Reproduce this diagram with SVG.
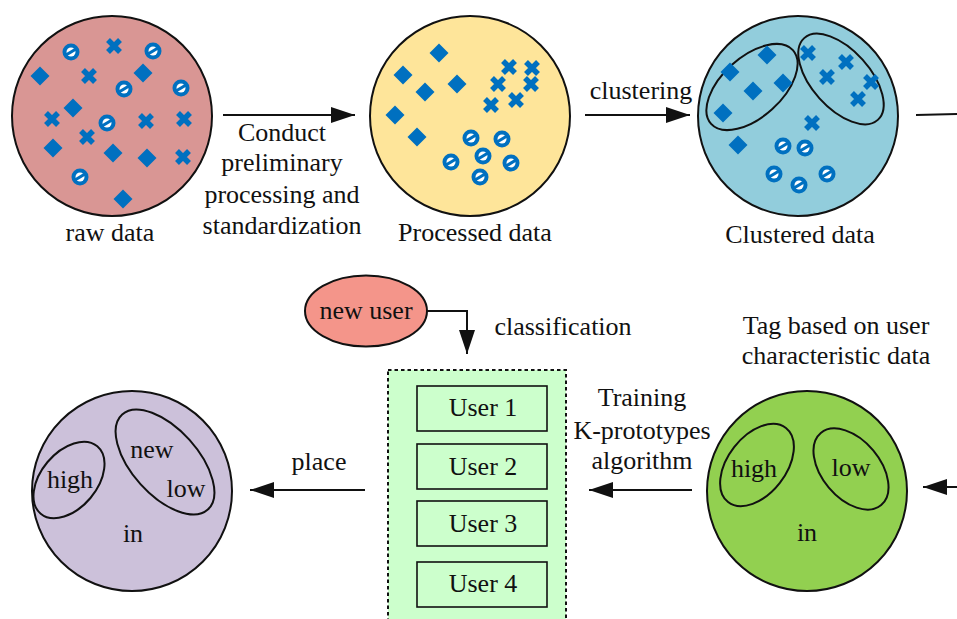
<svg xmlns="http://www.w3.org/2000/svg" width="957" height="619" viewBox="0 0 957 619">
  <style>
    text { font-family: "Liberation Serif", "Times New Roman", serif; font-size: 26px; fill: #111; text-anchor: middle; }
    .big { stroke: #111; stroke-width: 2; }
    .ell { fill: none; stroke: #111; stroke-width: 2; }
    .conn { stroke: #111; stroke-width: 2; fill: none; }
    .box { fill: #ccffcc; stroke: #111; stroke-width: 1.6; }
  </style>
  <defs>
    <marker id="arrow" viewBox="0 0 24 16" refX="24" refY="8" markerWidth="24" markerHeight="16" markerUnits="userSpaceOnUse" orient="auto">
      <path d="M0,0 L24,8 L0,16 Z" fill="#111"/>
    </marker>
    <path id="dia" d="M0,-9.5 L9.5,0 L0,9.5 L-9.5,0 Z" fill="#0070c0"/>
    <path id="crs" d="M-6,-6 L6,6 M6,-6 L-6,6" stroke="#0070c0" stroke-width="5.5" fill="none"/>
    <g id="rng">
      <circle r="8.5" fill="#0070c0"/>
      <circle r="4.5" fill="#ffffff"/>
      <line x1="-5" y1="3" x2="5" y2="-3" stroke="#0070c0" stroke-width="3.2"/>
    </g>
  </defs>

  <!-- raw data -->
  <g id="raw-data">
    <circle class="big" cx="112" cy="116" r="100" fill="#d99694"/>
    <use href="#rng" x="71" y="52"/><use href="#rng" x="153" y="51"/><use href="#rng" x="124" y="89"/>
    <use href="#rng" x="181" y="88"/><use href="#rng" x="107" y="123"/><use href="#rng" x="80" y="177"/>
    <use href="#crs" x="114" y="46"/><use href="#crs" x="89" y="76"/><use href="#crs" x="52" y="119"/>
    <use href="#crs" x="87" y="137"/><use href="#crs" x="146" y="121"/><use href="#crs" x="184" y="119"/>
    <use href="#crs" x="183" y="157"/>
    <use href="#dia" x="40" y="76"/><use href="#dia" x="143" y="73"/><use href="#dia" x="73" y="108"/>
    <use href="#dia" x="53" y="148"/><use href="#dia" x="113" y="153"/><use href="#dia" x="147" y="158"/>
    <use href="#dia" x="123" y="199"/>
    <text x="110" y="241">raw data</text>
  </g>

  <!-- processed data -->
  <g id="processed-data">
    <circle class="big" cx="470" cy="116" r="100" fill="#fee59a"/>
    <use href="#dia" x="439" y="53"/><use href="#dia" x="403" y="75"/><use href="#dia" x="425" y="92"/>
    <use href="#dia" x="457" y="84"/><use href="#dia" x="395" y="115"/><use href="#dia" x="417" y="137"/>
    <use href="#crs" x="509" y="67"/><use href="#crs" x="532" y="68"/><use href="#crs" x="498" y="84"/>
    <use href="#crs" x="531" y="84"/><use href="#crs" x="516" y="100"/><use href="#crs" x="491" y="105"/>
    <use href="#rng" x="471" y="138"/><use href="#rng" x="502" y="139"/><use href="#rng" x="483" y="156"/>
    <use href="#rng" x="451" y="162"/><use href="#rng" x="511" y="163"/><use href="#rng" x="480" y="177"/>
    <text x="475" y="241">Processed data</text>
  </g>

  <!-- clustered data -->
  <g id="clustered-data">
    <circle class="big" cx="798" cy="116" r="100" fill="#92cddc"/>
    <ellipse class="ell" cx="752" cy="87" rx="55" ry="30" transform="rotate(-42 752 87)"/>
    <ellipse class="ell" cx="841" cy="79" rx="55" ry="29" transform="rotate(48 841 79)"/>
    <use href="#dia" x="767" y="55"/><use href="#dia" x="730" y="72"/><use href="#dia" x="753" y="91"/>
    <use href="#dia" x="783" y="83"/><use href="#dia" x="723" y="113"/><use href="#dia" x="738" y="145"/>
    <use href="#crs" x="808" y="53"/><use href="#crs" x="846" y="62"/><use href="#crs" x="827" y="77"/>
    <use href="#crs" x="871" y="82"/><use href="#crs" x="858" y="99"/><use href="#crs" x="812" y="123"/>
    <use href="#rng" x="783" y="146"/><use href="#rng" x="805" y="148"/><use href="#rng" x="774" y="174"/>
    <use href="#rng" x="827" y="174"/><use href="#rng" x="799" y="185"/>
    <text x="800" y="243">Clustered data</text>
  </g>

  <!-- tagged users -->
  <g id="tagged">
    <text x="836" y="334">Tag based on user</text>
    <text x="836" y="364">characteristic data</text>
    <circle class="big" cx="807" cy="491" r="100" fill="#92d050"/>
    <ellipse class="ell" cx="757" cy="465" rx="47" ry="29" transform="rotate(-52 757 465)"/>
    <ellipse class="ell" cx="851" cy="469" rx="47" ry="29" transform="rotate(50 851 469)"/>
    <text x="754" y="477">high</text>
    <text x="851" y="476">low</text>
    <text x="807" y="541">in</text>
  </g>

  <!-- user groups -->
  <g id="user-groups">
    <rect x="388" y="370" width="178" height="260" fill="#ccffcc" stroke="#111" stroke-width="2" stroke-dasharray="3.5 3"/>
    <rect class="box" x="417" y="386" width="130" height="45"/>
    <text x="483" y="416">User 1</text>
    <rect class="box" x="417" y="444" width="130" height="45"/>
    <text x="483" y="475">User 2</text>
    <rect class="box" x="417" y="501" width="130" height="45"/>
    <text x="483" y="532">User 3</text>
    <rect class="box" x="417" y="562" width="130" height="45"/>
    <text x="483" y="592">User 4</text>
  </g>

  <!-- new user -->
  <g id="new-user">
    <ellipse cx="366" cy="311" rx="61" ry="35.5" fill="#f4958a" stroke="#111" stroke-width="2"/>
    <text x="366" y="319">new user</text>
  </g>

  <!-- placed result -->
  <g id="placed">
    <circle class="big" cx="132" cy="491" r="100" fill="#ccc1da"/>
    <ellipse class="ell" cx="69" cy="480" rx="44" ry="28" transform="rotate(-50 69 480)"/>
    <ellipse class="ell" cx="165" cy="462" rx="64" ry="33" transform="rotate(48 165 462)"/>
    <text x="70" y="488">high</text>
    <text x="152" y="458">new</text>
    <text x="186" y="497">low</text>
    <text x="133" y="542">in</text>
  </g>

  <!-- connectors -->
  <g id="connectors">
    <line class="conn" x1="223" y1="115" x2="355" y2="115" marker-end="url(#arrow)"/>
    <text x="282" y="141">Conduct</text>
    <text x="282" y="171">preliminary</text>
    <text x="282" y="203">processing and</text>
    <text x="282" y="234">standardization</text>

    <line class="conn" x1="585" y1="115" x2="690" y2="115" marker-end="url(#arrow)"/>
    <text x="641" y="99">clustering</text>

    <line class="conn" x1="916" y1="115" x2="957" y2="114"/>

    <line class="conn" x1="957" y1="487" x2="923" y2="487" marker-end="url(#arrow)"/>

    <line class="conn" x1="692" y1="490" x2="589" y2="490" marker-end="url(#arrow)"/>
    <text x="642" y="406">Training</text>
    <text x="642" y="439">K-prototypes</text>
    <text x="642" y="469">algorithm</text>

    <line class="conn" x1="365" y1="490" x2="250" y2="490" marker-end="url(#arrow)"/>
    <text x="319" y="470">place</text>

    <path class="conn" d="M427,311 H467 V354" marker-end="url(#arrow)"/>
    <text x="563" y="335">classification</text>
  </g>
</svg>
